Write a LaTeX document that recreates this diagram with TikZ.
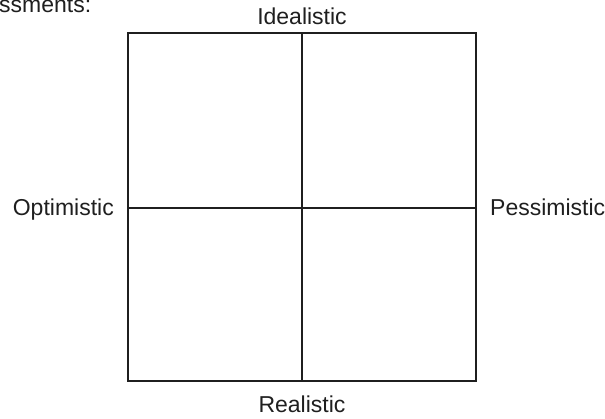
\documentclass[tikz,border=0pt]{standalone}
\usepackage{fontspec}
\setmainfont{Liberation Sans}
\begin{document}
\begin{tikzpicture}[x=1pt,y=-1pt,
  lbl/.style={inner sep=0pt,font=\fontsize{23}{27}\selectfont,text=black!88},
  gridline/.style={line width=2pt,draw=black!88}]
\useasboundingbox (0,0) rectangle (605,419);
\node[lbl,anchor=base west] (head) at (-1,13) {ssments:};
\coordinate (tl) at (128,33);
\coordinate (br) at (476,381);
\coordinate (tm) at (302,33);
\coordinate (bm) at (302,381);
\coordinate (ml) at (128,208);
\coordinate (mr) at (476,208);
\draw[gridline] (tl) rectangle (br);
\draw[gridline] (tm) -- (bm);
\draw[gridline] (ml) -- (mr);
\node[lbl,anchor=base] (ide) at (302,25) {Idealistic};
\node[lbl,anchor=base] (rea) at (302,413) {Realistic};
\node[lbl,anchor=base east] (opt) at (114,216) {Optimistic};
\node[lbl,anchor=base west] (pes) at (490,216) {Pessimistic};
\end{tikzpicture}
\end{document}
